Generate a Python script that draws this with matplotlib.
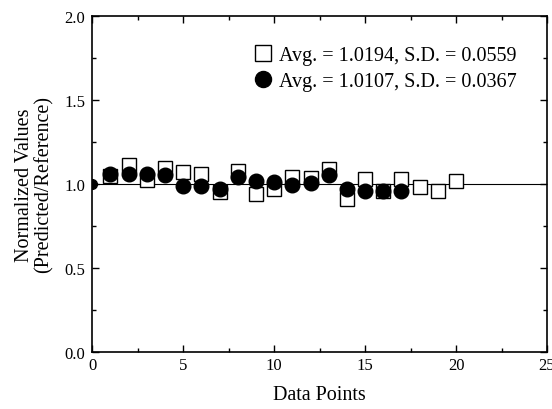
#!/usr/bin/env python3

import matplotlib
matplotlib.use('Agg')
import matplotlib.pyplot as plt
from matplotlib.ticker import MultipleLocator

# data
sq_x = list(range(1, 21))
sq_y = [1.05, 1.114, 1.025, 1.094, 1.07, 1.06, 0.95, 1.075, 0.94, 0.967,
        1.04, 1.035, 1.09, 0.91, 1.03, 0.96, 1.03, 0.98, 0.957, 1.02]
ci_x = list(range(1, 18))
ci_y = [1.06, 1.06, 1.06, 1.055, 0.99, 0.99, 0.967, 1.04, 1.02, 1.01,
        0.996, 1.004, 1.055, 0.97, 0.96, 0.96, 0.96]
sq_label = 'Avg. = 1.0194, S.D. = 0.0559'
ci_label = 'Avg. = 1.0107, S.D. = 0.0367'
ref_x = [0, 25]
ref_y = [1.0, 1.0]


def main():
    plt.rcParams['font.family'] = ['Liberation Serif', 'DejaVu Serif']
    fig = plt.figure(figsize=(5.52, 4.10), dpi=100)
    ax = fig.add_axes([0.167, 0.139, 0.824, 0.820])

    ax.plot(ref_x, ref_y, color='black', lw=0.8, marker='o', ms=7,
            markevery=[0], zorder=1)
    ax.plot(sq_x, sq_y, ls='none', marker='s', ms=10.5, mfc='white',
            mec='black', mew=1.0, label=sq_label, zorder=2)
    ax.plot(ci_x, ci_y, ls='none', marker='o', ms=10.5, mfc='black',
            mec='black', label=ci_label, zorder=3)

    ax.set_xlim(0, 25)
    ax.set_ylim(0, 2.0)
    ax.xaxis.set_major_locator(MultipleLocator(5))
    ax.xaxis.set_minor_locator(MultipleLocator(2.5))
    ax.yaxis.set_major_locator(MultipleLocator(0.5))
    ax.yaxis.set_minor_locator(MultipleLocator(0.25))
    ax.yaxis.set_major_formatter(plt.FormatStrFormatter('%.1f'))
    ax.tick_params(which='both', direction='in', top=True, right=True,
                   labelsize=12, width=1.0)
    ax.tick_params(axis='y', pad=5)
    ax.tick_params(which='major', length=5)
    ax.tick_params(which='minor', length=3)
    for s in ax.spines.values():
        s.set_linewidth(1.2)

    ax.set_xlabel('Data Points', fontsize=14.5, labelpad=9)
    ax.set_ylabel('Normalized Values\n(Predicted/Reference)', fontsize=14.5,
                  linespacing=1.0, labelpad=8)

    ax.legend(loc='upper right', frameon=False, fontsize=14.5,
              handletextpad=0.2, borderaxespad=1.1, labelspacing=0.32,
              handlelength=1.2, markerscale=1.1)

    fig.savefig('out.png', dpi=100)


if __name__ == '__main__':
    main()
